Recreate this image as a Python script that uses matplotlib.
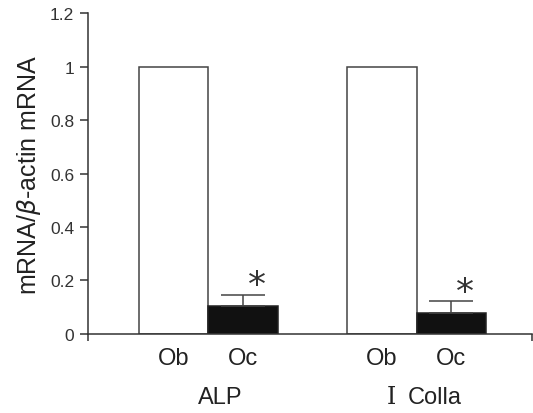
import matplotlib
matplotlib.use('Agg')
import matplotlib.pyplot as plt

# data
groups = ['ALP', 'Ⅰ Colla']
cells = ['Ob', 'Oc']
ob_vals = [1.0, 1.0]
oc_vals = [0.105, 0.078]
oc_err = [0.042, 0.045]
yticks = [0, 0.2, 0.4, 0.6, 0.8, 1, 1.2]
ytick_labels = ['0', '0.2', '0.4', '0.6', '0.8', '1', '1.2']

plt.rcParams['font.family'] = ['Liberation Sans', 'DejaVu Sans']

fig = plt.figure(figsize=(5.33, 4.14), dpi=100)
ax = fig.add_axes([0.165, 0.191, 0.833, 0.775])

ob_x = [g * 3 for g in range(len(groups))]
oc_x = [g * 3 + 1 for g in range(len(groups))]

ax.bar(ob_x, ob_vals, width=1.0, color='white', edgecolor='#444444', linewidth=1.1)
ax.bar(oc_x, oc_vals, width=1.0, color='#111111', edgecolor='#222222', linewidth=1.1)
ax.errorbar(oc_x, oc_vals, yerr=[[0] * len(oc_err), oc_err], fmt='none',
            ecolor='#444444', elinewidth=1.1, capsize=16, capthick=1.1)

# significance marks
for x, v, e in zip(oc_x, oc_vals, oc_err):
    ax.text(x + 0.2, v + e + 0.035, '*', fontsize=26, ha='center', va='center',
            color='#333333', family='DejaVu Sans')

ax.set_xlim(-1.23, 5.16)
ax.set_ylim(0, 1.2)
ax.set_yticks(yticks)
ax.set_yticklabels(ytick_labels, fontsize=12.5, color='#444444')
ax.tick_params(axis='y', direction='out', length=6, width=1.1, colors='#333333', pad=4)
ax.set_xticks([])
ax.set_xticks([-1.23, 5.16], minor=True)
ax.tick_params(axis='x', which='minor', direction='out', length=5, width=1.1, colors='#333333')

for s in ['top', 'right']:
    ax.spines[s].set_visible(False)
for s in ['left', 'bottom']:
    ax.spines[s].set_color('#333333')
    ax.spines[s].set_linewidth(1.1)

ax.set_ylabel(r'mRNA/$\beta$-actin mRNA', fontsize=18, color='#222222', labelpad=5)

# cell labels and group labels
for g in range(len(groups)):
    for k, c in enumerate(cells):
        ax.text(g * 3 + k, -0.09, c, fontsize=17, ha='center', va='center',
                color='#222222', clip_on=False)
    name = groups[g]
    if name.startswith('Ⅰ'):
        ax.text(g * 3 + 0.14, -0.235, name[0], fontsize=17, ha='center', va='center',
                color='#222222', family=['DejaVu Serif', 'Noto Sans CJK JP'], clip_on=False)
        ax.text(g * 3 + 0.76, -0.235, name[2:], fontsize=17, ha='center', va='center',
                color='#222222', clip_on=False)
    else:
        ax.text(g * 3 + 0.67, -0.235, name, fontsize=17, ha='center', va='center',
                color='#222222', clip_on=False)

fig.savefig('out.png', dpi=100)
